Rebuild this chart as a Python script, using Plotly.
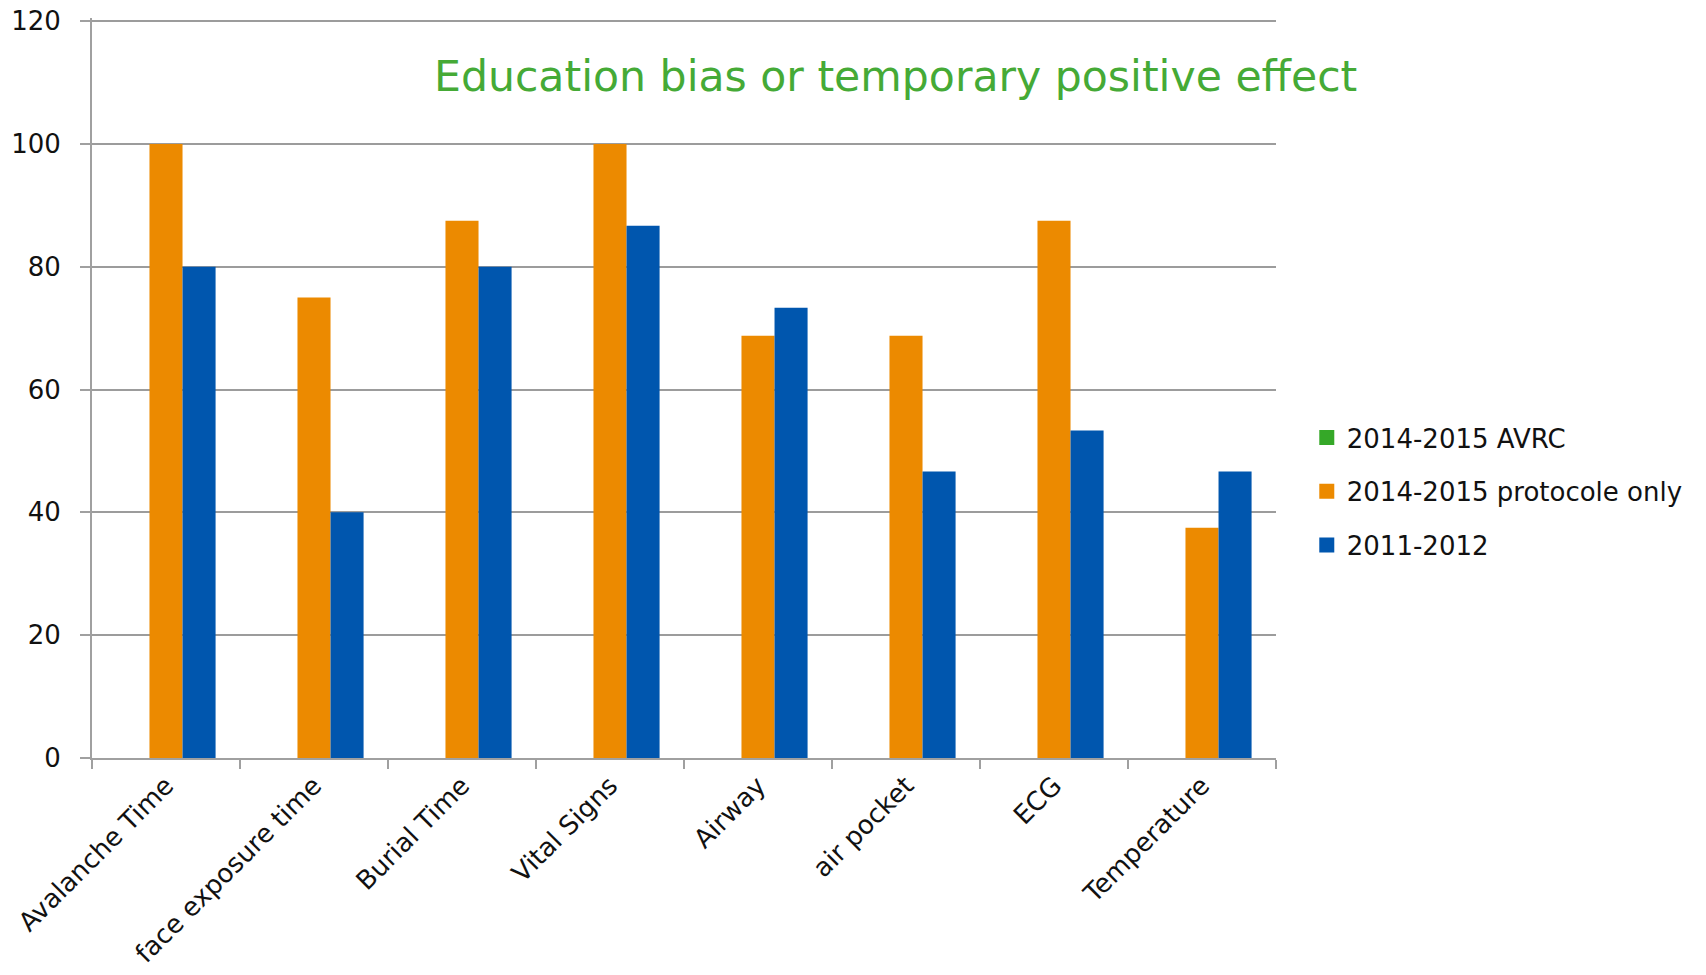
import plotly.graph_objects as go

categories = ["Avalanche Time", "face exposure time", "Burial Time", "Vital Signs",
              "Airway", "air pocket", "ECG", "Temperature"]
avrc_2014_2015 = [0, 0, 0, 0, 0, 0, 0, 0]
protocole_2014_2015 = [100, 75, 87.5, 100, 68.75, 68.75, 87.5, 37.5]
values_2011_2012 = [80, 40, 80, 86.67, 73.33, 46.67, 53.33, 46.67]
series_names = ["2014-2015 AVRC", "2014-2015 protocole only", "2011-2012"]
y_ticks = [0, 20, 40, 60, 80, 100, 120]

FONT = "DejaVu Sans"
colors = ["#35A828", "#EC8A00", "#0056AE"]

fig = go.Figure()
for i, (name, vals) in enumerate(zip(series_names,
                                     [avrc_2014_2015, protocole_2014_2015, values_2011_2012])):
    fig.add_trace(go.Bar(
        x=categories, y=vals, name=name,
        marker=dict(color=colors[i], line=dict(width=0)),
        showlegend=False,
    ))
# legend entries with larger square swatches
for i, name in enumerate(series_names):
    fig.add_trace(go.Scatter(
        x=[None], y=[None], mode="markers", name=name,
        marker=dict(symbol="square", size=15, color=colors[i]),
        legendgroup=f"g{i}", showlegend=True,
    ))

fig.update_layout(
    width=1706, height=975,
    margin=dict(l=92, r=430, t=18, b=217, autoexpand=False),
    paper_bgcolor="white", plot_bgcolor="white",
    barmode="group", bargap=0.33, bargroupgap=0,
    font=dict(family=FONT, size=26, color="#111111"),
    showlegend=True,
    legend=dict(
        x=1.026, xanchor="left", y=0.36, yanchor="middle",
        font=dict(family=FONT, size=26, color="#111111"),
        tracegroupgap=17, bgcolor="rgba(0,0,0,0)",
        itemwidth=30,
    ),
    annotations=[dict(
        text="Education bias or temporary positive effect",
        x=0.679, y=0.921, xref="paper", yref="paper",
        xanchor="center", yanchor="middle", showarrow=False,
        font=dict(family=FONT, size=42.6, color="#45AA36"),
    )],
)

fig.update_xaxes(
    type="category", tickangle=-45, automargin=False,
    showline=True, linecolor="#A0A0A0", linewidth=2,
    ticks="outside", tickson="boundaries", ticklen=9, tickcolor="#A0A0A0", tickwidth=2,
    showgrid=False,
    tickfont=dict(family=FONT, size=26, color="#111111"),
)
fig.update_yaxes(
    range=[0, 120.5], tickvals=y_ticks, automargin=False,
    showline=True, linecolor="#A0A0A0", linewidth=2,
    ticks="outside", ticklen=10, tickcolor="#A0A0A0", tickwidth=2,
    showgrid=True, gridcolor="#9C9C9C", gridwidth=2,
    zeroline=False,
    ticklabelstandoff=14, ticklabeloverflow="allow",
    tickfont=dict(family=FONT, size=26, color="#111111"),
)

fig.write_html("out.html", config={"displayModeBar": False},
               post_script="document.body.style.margin='0';")
